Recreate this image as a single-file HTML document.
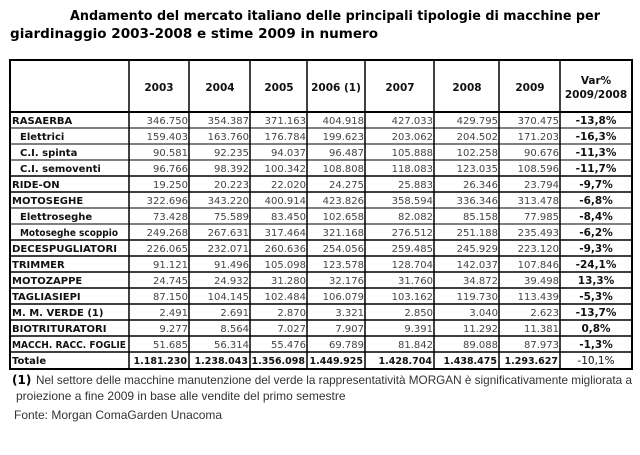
<!DOCTYPE html>
<html><head><meta charset="utf-8"><style>
html,body{margin:0;padding:0;background:#fff;width:640px;height:455px;overflow:hidden}
svg{display:block}
.t{font-family:"DejaVu Sans","Liberation Sans",sans-serif;font-weight:bold;font-size:13px;fill:#000}
.h{font-family:"DejaVu Sans",sans-serif;font-weight:bold;font-size:10.5px;fill:#111;text-anchor:middle}
.l{font-family:"DejaVu Sans",sans-serif;font-weight:bold;font-size:10px;fill:#111}
.n{font-family:"DejaVu Sans",sans-serif;font-size:10px;fill:#444;text-anchor:end}
.nb{font-family:"DejaVu Sans",sans-serif;font-weight:bold;font-size:9.5px;fill:#111;text-anchor:end}
.v{font-family:"DejaVu Sans",sans-serif;font-weight:bold;font-size:10.5px;fill:#111;text-anchor:middle}
.f{font-family:"Liberation Sans",sans-serif;font-size:12px;fill:#333}
</style></head><body>
<svg width="640" height="455" xmlns="http://www.w3.org/2000/svg">
<text class="t" x="70" y="20" textLength="530" lengthAdjust="spacingAndGlyphs">Andamento del mercato italiano delle principali tipologie di macchine per</text>
<text class="t" x="10" y="38" textLength="368" lengthAdjust="spacingAndGlyphs">giardinaggio 2003-2008 e stime 2009 in numero</text>
<g stroke="#000" stroke-width="1.5" fill="none">
<rect x="10" y="60" width="622" height="309" stroke-width="2"/>
<line x1="10" y1="112" x2="632" y2="112" stroke-width="2"/>
<line x1="129" y1="60" x2="129" y2="369"/><line x1="189" y1="60" x2="189" y2="369"/>
<line x1="250" y1="60" x2="250" y2="369"/><line x1="307" y1="60" x2="307" y2="369"/>
<line x1="365" y1="60" x2="365" y2="369"/><line x1="434" y1="60" x2="434" y2="369"/>
<line x1="499" y1="60" x2="499" y2="369"/><line x1="560" y1="60" x2="560" y2="369"/>
<line x1="10" y1="128" x2="632" y2="128" stroke-width="1"/>
<line x1="10" y1="144" x2="632" y2="144" stroke-width="1"/>
<line x1="10" y1="160" x2="632" y2="160" stroke-width="1"/>
<line x1="10" y1="176" x2="632" y2="176"/>
<line x1="10" y1="192" x2="632" y2="192"/>
<line x1="10" y1="208" x2="632" y2="208" stroke-width="1"/>
<line x1="10" y1="224" x2="632" y2="224" stroke-width="1"/>
<line x1="10" y1="240" x2="632" y2="240"/>
<line x1="10" y1="256" x2="632" y2="256"/>
<line x1="10" y1="272" x2="632" y2="272"/>
<line x1="10" y1="288" x2="632" y2="288"/>
<line x1="10" y1="304" x2="632" y2="304"/>
<line x1="10" y1="320" x2="632" y2="320"/>
<line x1="10" y1="336" x2="632" y2="336"/>
<line x1="10" y1="352" x2="632" y2="352"/>
</g>
<text class="h" x="159" y="91">2003</text><text class="h" x="220" y="91">2004</text><text class="h" x="279" y="91">2005</text><text class="h" x="336" y="91">2006 (1)</text><text class="h" x="400" y="91">2007</text><text class="h" x="467" y="91">2008</text><text class="h" x="530" y="91">2009</text>
<text class="h" x="596" y="84">Var%</text><text class="h" x="596" y="98">2009/2008</text>

<g>
<text class="l" x="12" y="124">RASAERBA</text><text class="n" x="188" y="124">346.750</text><text class="n" x="249" y="124">354.387</text><text class="n" x="306" y="124">371.163</text><text class="n" x="364" y="124">404.918</text><text class="n" x="433" y="124">427.033</text><text class="n" x="498" y="124">429.795</text><text class="n" x="559" y="124">370.475</text><text class="v" x="596" y="124">-13,8%</text>
<text class="l" x="20" y="140">Elettrici</text><text class="n" x="188" y="140">159.403</text><text class="n" x="249" y="140">163.760</text><text class="n" x="306" y="140">176.784</text><text class="n" x="364" y="140">199.623</text><text class="n" x="433" y="140">203.062</text><text class="n" x="498" y="140">204.502</text><text class="n" x="559" y="140">171.203</text><text class="v" x="596" y="140">-16,3%</text>
<text class="l" x="20" y="156">C.I. spinta</text><text class="n" x="188" y="156">90.581</text><text class="n" x="249" y="156">92.235</text><text class="n" x="306" y="156">94.037</text><text class="n" x="364" y="156">96.487</text><text class="n" x="433" y="156">105.888</text><text class="n" x="498" y="156">102.258</text><text class="n" x="559" y="156">90.676</text><text class="v" x="596" y="156">-11,3%</text>
<text class="l" x="20" y="172">C.I. semoventi</text><text class="n" x="188" y="172">96.766</text><text class="n" x="249" y="172">98.392</text><text class="n" x="306" y="172">100.342</text><text class="n" x="364" y="172">108.808</text><text class="n" x="433" y="172">118.083</text><text class="n" x="498" y="172">123.035</text><text class="n" x="559" y="172">108.596</text><text class="v" x="596" y="172">-11,7%</text>
<text class="l" x="12" y="188">RIDE-ON</text><text class="n" x="188" y="188">19.250</text><text class="n" x="249" y="188">20.223</text><text class="n" x="306" y="188">22.020</text><text class="n" x="364" y="188">24.275</text><text class="n" x="433" y="188">25.883</text><text class="n" x="498" y="188">26.346</text><text class="n" x="559" y="188">23.794</text><text class="v" x="596" y="188">-9,7%</text>
<text class="l" x="12" y="204">MOTOSEGHE</text><text class="n" x="188" y="204">322.696</text><text class="n" x="249" y="204">343.220</text><text class="n" x="306" y="204">400.914</text><text class="n" x="364" y="204">423.826</text><text class="n" x="433" y="204">358.594</text><text class="n" x="498" y="204">336.346</text><text class="n" x="559" y="204">313.478</text><text class="v" x="596" y="204">-6,8%</text>
<text class="l" x="20" y="220">Elettroseghe</text><text class="n" x="188" y="220">73.428</text><text class="n" x="249" y="220">75.589</text><text class="n" x="306" y="220">83.450</text><text class="n" x="364" y="220">102.658</text><text class="n" x="433" y="220">82.082</text><text class="n" x="498" y="220">85.158</text><text class="n" x="559" y="220">77.985</text><text class="v" x="596" y="220">-8,4%</text>
<text class="l" x="20" y="236" textLength="98" lengthAdjust="spacingAndGlyphs">Motoseghe scoppio</text><text class="n" x="188" y="236">249.268</text><text class="n" x="249" y="236">267.631</text><text class="n" x="306" y="236">317.464</text><text class="n" x="364" y="236">321.168</text><text class="n" x="433" y="236">276.512</text><text class="n" x="498" y="236">251.188</text><text class="n" x="559" y="236">235.493</text><text class="v" x="596" y="236">-6,2%</text>
<text class="l" x="12" y="252" textLength="105" lengthAdjust="spacingAndGlyphs">DECESPUGLIATORI</text><text class="n" x="188" y="252">226.065</text><text class="n" x="249" y="252">232.071</text><text class="n" x="306" y="252">260.636</text><text class="n" x="364" y="252">254.056</text><text class="n" x="433" y="252">259.485</text><text class="n" x="498" y="252">245.929</text><text class="n" x="559" y="252">223.120</text><text class="v" x="596" y="252">-9,3%</text>
<text class="l" x="12" y="268">TRIMMER</text><text class="n" x="188" y="268">91.121</text><text class="n" x="249" y="268">91.496</text><text class="n" x="306" y="268">105.098</text><text class="n" x="364" y="268">123.578</text><text class="n" x="433" y="268">128.704</text><text class="n" x="498" y="268">142.037</text><text class="n" x="559" y="268">107.846</text><text class="v" x="596" y="268">-24,1%</text>
<text class="l" x="12" y="284">MOTOZAPPE</text><text class="n" x="188" y="284">24.745</text><text class="n" x="249" y="284">24.932</text><text class="n" x="306" y="284">31.280</text><text class="n" x="364" y="284">32.176</text><text class="n" x="433" y="284">31.760</text><text class="n" x="498" y="284">34.872</text><text class="n" x="559" y="284">39.498</text><text class="v" x="596" y="284">13,3%</text>
<text class="l" x="12" y="300">TAGLIASIEPI</text><text class="n" x="188" y="300">87.150</text><text class="n" x="249" y="300">104.145</text><text class="n" x="306" y="300">102.484</text><text class="n" x="364" y="300">106.079</text><text class="n" x="433" y="300">103.162</text><text class="n" x="498" y="300">119.730</text><text class="n" x="559" y="300">113.439</text><text class="v" x="596" y="300">-5,3%</text>
<text class="l" x="12" y="316">M. M. VERDE (1)</text><text class="n" x="188" y="316">2.491</text><text class="n" x="249" y="316">2.691</text><text class="n" x="306" y="316">2.870</text><text class="n" x="364" y="316">3.321</text><text class="n" x="433" y="316">2.850</text><text class="n" x="498" y="316">3.040</text><text class="n" x="559" y="316">2.623</text><text class="v" x="596" y="316">-13,7%</text>
<text class="l" x="12" y="332">BIOTRITURATORI</text><text class="n" x="188" y="332">9.277</text><text class="n" x="249" y="332">8.564</text><text class="n" x="306" y="332">7.027</text><text class="n" x="364" y="332">7.907</text><text class="n" x="433" y="332">9.391</text><text class="n" x="498" y="332">11.292</text><text class="n" x="559" y="332">11.381</text><text class="v" x="596" y="332">0,8%</text>
<text class="l" x="12" y="348" textLength="114" lengthAdjust="spacingAndGlyphs">MACCH. RACC. FOGLIE</text><text class="n" x="188" y="348">51.685</text><text class="n" x="249" y="348">56.314</text><text class="n" x="306" y="348">55.476</text><text class="n" x="364" y="348">69.789</text><text class="n" x="433" y="348">81.842</text><text class="n" x="498" y="348">89.088</text><text class="n" x="559" y="348">87.973</text><text class="v" x="596" y="348">-1,3%</text>
<text class="l" x="12" y="364">Totale</text><text class="nb" x="187" y="364">1.181.230</text><text class="nb" x="248" y="364">1.238.043</text><text class="nb" x="305" y="364">1.356.098</text><text class="nb" x="363" y="364">1.449.925</text><text class="nb" x="432" y="364">1.428.704</text><text class="nb" x="497" y="364">1.438.475</text><text class="nb" x="558" y="364">1.293.627</text><text class="v" x="596" y="364" style="font-weight:normal">-10,1%</text>
</g>
<text x="12" y="384" style="font-family:'DejaVu Sans',sans-serif;font-weight:bold;font-size:12px">(1)</text>
<text class="f" x="36" y="384" textLength="596" lengthAdjust="spacingAndGlyphs">Nel settore delle macchine manutenzione del verde la rappresentatività MORGAN è significativamente migliorata a</text>
<text class="f" x="16" y="400">proiezione a fine 2009 in base alle vendite del primo semestre</text>
<text class="f" x="14" y="419">Fonte: Morgan ComaGarden Unacoma</text>
</svg>
</body></html>
